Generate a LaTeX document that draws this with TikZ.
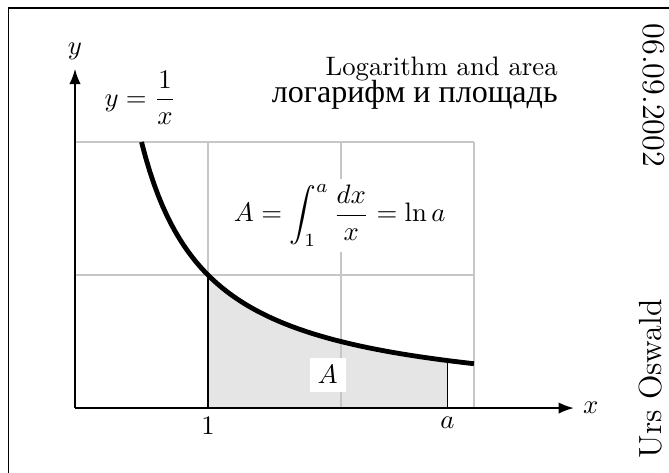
\documentclass[tikz,border=0pt]{standalone}
\usepackage{amsmath}
\usepackage{fontspec}
\newfontfamily\cyrfont[Scale=1.2]{Liberation Serif}
\usetikzlibrary{arrows.meta}

\begin{document}
\begin{tikzpicture}[
    x=1.75cm, y=1.75cm,
    >=Latex,
    gridline/.style={draw=gray!45, line width=0.5pt},
    axis/.style={->, line width=0.6pt},
    curve/.style={line width=1.8pt},
    area/.style={fill=gray!20},
    tag/.style={fill=white, inner sep=3pt},
    side/.style={font=\large}
]

\useasboundingbox (-0.564,-0.481) rectangle (4.466,3.068);

% FRAME
\draw[line width=0.6pt] (-0.5,-1) -- (-0.5,3.008) -- (5,3.008);

% AREA
\fill[area] (1,0) -- plot[domain=1:2.8, samples=40] (\x,{1/\x}) -- (2.8,0) -- cycle;

% GRID
\draw[gridline, step=1] (0,0) grid (3,2);
\draw (1,0) -- (1,1);
\draw (2.8,0) -- (2.8,{1/2.8});

% AXES
\coordinate (o) at (0,0);
\coordinate (xend) at (3.75,0);
\coordinate (yend) at (0,2.55);
\draw[axis] (o) -- (xend);
\draw[axis] (o) -- (yend);
\node[right] (xlab) at (xend) {$x$};
\node[above] (ylab) at (yend) {$y$};
\node[below] (one) at (1,0) {$1$};
\node[below] (alab) at (2.8,0) {$a$};

% CURVE
\draw[curve] plot[domain=0.5:3, samples=80] (\x,{1/\x});
\node (fun) at (0.49,2.33) {$y=\dfrac{1}{x}$};
\node[tag] (area) at (1.9,0.25) {$A$};
\node[fill=white, inner sep=2pt] (formula) at (1.99,1.45)
{$A=\displaystyle\int_1^a\frac{dx}{x}=\ln a$};

% TITLE
\node[anchor=base east] (title) at (3.70,2.5) {Logarithm and area};
\node[anchor=base east] (titleru) at (3.70,2.3) {\cyrfont логарифм и площадь};

% SIDE TEXT
\node[side, rotate=-90, anchor=west] (date) at (4.35,2.96) {06.09.2002};
\node[side, rotate=90, anchor=west] (author) at (4.33,-0.45) {Urs Oswald};

\end{tikzpicture}
\end{document}
